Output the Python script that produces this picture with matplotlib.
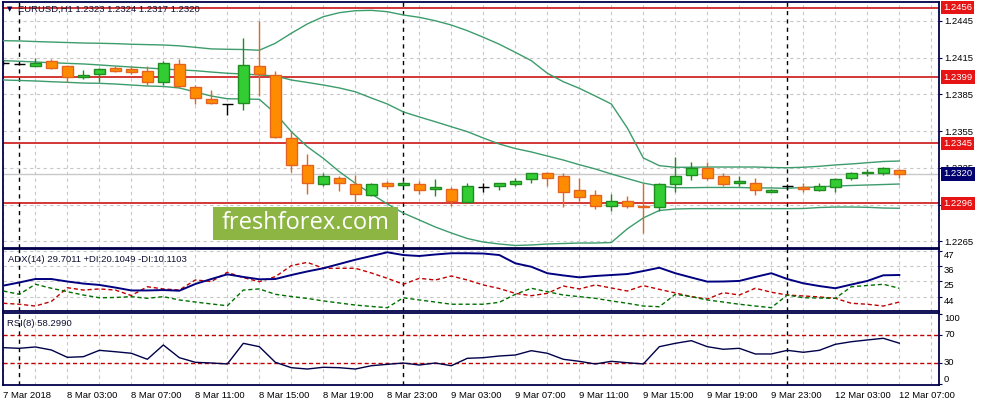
import matplotlib
matplotlib.use('Agg')
import matplotlib.pyplot as plt
from matplotlib.transforms import blended_transform_factory as btf
from matplotlib.patches import Rectangle

plt.rcParams['font.family'] = ['Liberation Sans', 'DejaVu Sans']

# ---------------- data ----------------
opens = [1.2411, 1.2410, 1.2408, 1.2412, 1.2408, 1.2399, 1.2402, 1.2407, 1.2406, 1.2404,
         1.2395, 1.2410, 1.2391, 1.2381, 1.2377, 1.2378, 1.2408, 1.2401, 1.2349, 1.2327,
         1.2312, 1.2317, 1.2312, 1.2303, 1.2313, 1.2311, 1.2312, 1.2308, 1.2308, 1.2297,
         1.2309, 1.2310, 1.2312, 1.2316, 1.2321, 1.2318, 1.2307, 1.2303, 1.2294, 1.2298,
         1.2294, 1.2293, 1.2312, 1.2319, 1.2325, 1.2318, 1.2313, 1.2313, 1.2305, 1.2310,
         1.2309, 1.2307, 1.2309, 1.2317, 1.2321, 1.2321, 1.2323]
highs = [1.2413, 1.2411, 1.2415, 1.2414, 1.2408, 1.2405, 1.2407, 1.2408, 1.2408, 1.2408,
         1.2412, 1.2414, 1.2393, 1.2389, 1.2377, 1.2431, 1.2445, 1.2404, 1.2355, 1.2336,
         1.2321, 1.2318, 1.2319, 1.2313, 1.2314, 1.2314, 1.2314, 1.2316, 1.2309, 1.2313,
         1.2313, 1.2313, 1.2317, 1.2321, 1.2322, 1.2321, 1.2317, 1.2307, 1.2304, 1.2302,
         1.2313, 1.2313, 1.2334, 1.2330, 1.2330, 1.2321, 1.2318, 1.2317, 1.2308, 1.2312,
         1.2313, 1.2313, 1.2317, 1.2322, 1.2324, 1.2326, 1.2324]
lows = [1.2409, 1.2409, 1.2408, 1.2406, 1.2395, 1.2398, 1.2395, 1.2403, 1.2402, 1.2393,
        1.2393, 1.2390, 1.2377, 1.2377, 1.2368, 1.2372, 1.2384, 1.2349, 1.2322, 1.2304,
        1.2310, 1.2306, 1.2297, 1.2302, 1.2308, 1.2311, 1.2304, 1.2302, 1.2294, 1.2296,
        1.2305, 1.2307, 1.2310, 1.2313, 1.2310, 1.2293, 1.2298, 1.2291, 1.2290, 1.2292,
        1.2272, 1.2290, 1.2305, 1.2315, 1.2315, 1.2310, 1.2310, 1.2303, 1.2305, 1.2307,
        1.2305, 1.2306, 1.2305, 1.2315, 1.2318, 1.2319, 1.2317]
closes = [1.2411, 1.2410, 1.2411, 1.2407, 1.2399, 1.2401, 1.2406, 1.2404, 1.2403, 1.2395,
          1.2411, 1.2392, 1.2382, 1.2378, 1.2377, 1.2409, 1.2402, 1.2350, 1.2327, 1.2313,
          1.2318, 1.2313, 1.2304, 1.2312, 1.2310, 1.2313, 1.2307, 1.2309, 1.2298, 1.2310,
          1.2309, 1.2313, 1.2314, 1.2321, 1.2317, 1.2305, 1.2301, 1.2294, 1.2298, 1.2294,
          1.2293, 1.2312, 1.2318, 1.2325, 1.2317, 1.2312, 1.2314, 1.2307, 1.2307, 1.2310,
          1.2308, 1.2310, 1.2316, 1.2321, 1.2322, 1.2325, 1.2320]

bb_upper = [1.24289, 1.24287, 1.24282, 1.24278, 1.24274, 1.24270, 1.24268, 1.24265, 1.24260, 1.24257,
            1.24254, 1.24247, 1.24235, 1.24222, 1.24219, 1.24217, 1.24211,
            1.24268, 1.24350, 1.24426, 1.24485, 1.24518, 1.24534, 1.24537, 1.24526, 1.24499,
            1.24480, 1.24452, 1.24417, 1.24371, 1.24317,
            1.24260, 1.24194, 1.24126, 1.24023, 1.23954, 1.23900, 1.23837, 1.23772, 1.23576, 1.23331,
            1.23268, 1.23255, 1.23255, 1.23257, 1.23257, 1.23257, 1.23257, 1.23253, 1.23251, 1.23255,
            1.23263, 1.23274, 1.23282, 1.23292, 1.23302, 1.23306]
bb_mid = [1.24126, 1.24121, 1.24115, 1.24109, 1.24104, 1.24099, 1.24091, 1.24082, 1.24074, 1.24066,
          1.24058, 1.24050, 1.24044, 1.24033, 1.24023, 1.24017, 1.24009,
          1.24001, 1.23968, 1.23948, 1.23927, 1.23903, 1.23872, 1.23821, 1.23772, 1.23707,
          1.23666, 1.23627, 1.23586, 1.23546, 1.23494,
          1.23445, 1.23408, 1.23380, 1.23347, 1.23314, 1.23276, 1.23241, 1.23200, 1.23163, 1.23126,
          1.23102, 1.23088, 1.23088, 1.23090, 1.23090, 1.23090, 1.23086, 1.23086, 1.23083, 1.23090,
          1.23094, 1.23102, 1.23106, 1.23110, 1.23114, 1.23118]
bb_lower = [1.23968, 1.23964, 1.23960, 1.23954, 1.23949, 1.23943, 1.23941, 1.23935, 1.23927, 1.23919,
            1.23915, 1.23903, 1.23870, 1.23837, 1.23815, 1.23813, 1.23810,
            1.23696, 1.23546, 1.23423, 1.23328, 1.23219, 1.23124, 1.23037, 1.22955, 1.22881,
            1.22824, 1.22767, 1.22718, 1.22673, 1.22644,
            1.22628, 1.22616, 1.22620, 1.22628, 1.22632, 1.22636, 1.22636, 1.22640, 1.22752, 1.22841,
            1.22902, 1.22914, 1.22917, 1.22917, 1.22917, 1.22917, 1.22917, 1.22917, 1.22917, 1.22918,
            1.22926, 1.22930, 1.22930, 1.22928, 1.22922, 1.22920]

adx = [22.0, 24.3, 26.8, 26.8, 25.0, 23.5, 22.5, 20.6, 18.5, 18.5,
       18.8, 18.3, 23.2, 26.8, 30.2, 28.3, 26.6,
       26.8, 29.7, 32.3, 34.6, 37.7, 40.8, 43.5, 46.2, 44.2, 43.5, 44.6, 45.5, 45.5, 45.3,
       44.2, 38.2, 35.7, 31.0, 29.4, 28.0, 29.0, 29.7, 30.4, 32.6,
       35.0, 31.0, 27.9, 24.9, 25.0, 25.4, 28.3, 31.0, 26.8, 23.7, 21.7, 20.1, 22.8, 25.4, 29.5, 29.7]
plus_di = [18.1, 15.7, 23.0, 20.1, 17.6, 15.2, 13.2, 13.4, 14.0, 12.8,
           14.0, 11.6, 10.1, 8.7, 7.4, 18.8, 19.6,
           15.7, 14.1, 12.7, 10.9, 9.4, 7.9, 6.9, 6.0, 13.2, 11.6, 10.1, 8.5, 8.5, 8.5,
           9.9, 15.7, 20.1, 17.6, 15.2, 14.0, 12.8, 10.9, 9.2, 7.2,
           6.7, 15.7, 14.0, 11.6, 10.1, 8.5, 7.2, 6.0, 15.2, 13.2, 13.0, 12.8, 21.2, 22.1, 23.0, 20.1]
minus_di = [9.2, 8.5, 7.2, 10.5, 20.5, 18.8, 19.6, 18.8, 14.8, 21.2,
            19.6, 18.8, 26.1, 25.0, 31.7, 27.8, 24.9,
            28.5, 36.5, 38.9, 34.6, 34.6, 34.6, 31.2, 27.3, 23.0, 27.3, 26.1, 29.0, 26.1, 22.5,
            19.9, 16.4, 14.7, 16.4, 21.7, 19.6, 22.5, 20.3, 18.1, 22.0,
            19.3, 16.7, 14.0, 12.3, 16.9, 15.2, 20.1, 17.2, 15.2, 14.5, 13.8, 12.8, 9.2, 8.5, 7.2, 10.1]
rsi = [51.9, 51.0, 52.9, 48.6, 38.1, 39.0, 48.1, 46.1, 43.9, 35.3,
       55.7, 37.6, 31.0, 30.0, 28.6, 58.1, 53.3,
       31.0, 23.3, 21.4, 23.9, 23.3, 21.4, 26.1, 28.1, 30.0, 27.1, 30.0, 26.1, 36.7, 37.6,
       40.0, 41.4, 47.6, 43.9, 35.3, 32.4, 28.6, 32.4, 30.4, 28.6,
       53.3, 58.1, 61.9, 53.3, 49.6, 51.0, 42.9, 42.9, 48.1, 45.3, 48.1, 56.7, 60.4, 62.9, 65.3, 58.3]

price_ticks = [1.2265, 1.2295, 1.2325, 1.2355, 1.2385, 1.2415, 1.2445]
price_tick_labels = ['1.2265', '', '1.2325', '1.2355', '1.2385', '1.2415', '1.2445']
red_levels = [1.2456, 1.2399, 1.2345, 1.2296]
last_price = 1.2320
adx_ticks = [14, 25, 36, 47]
adx_tick_labels = ['44', '25', '36', '47']
rsi_levels = [30, 70]
rsi_ticks = [0, 30, 70, 100]
day_separators = [1, 25, 49]
x_label_pos = [0, 4, 8, 12, 16, 20, 24, 28, 32, 36, 40, 44, 48, 52, 56]
x_labels = ['7 Mar 2018', '8 Mar 03:00', '8 Mar 07:00', '8 Mar 11:00', '8 Mar 15:00',
            '8 Mar 19:00', '8 Mar 23:00', '9 Mar 03:00', '9 Mar 07:00', '9 Mar 11:00',
            '9 Mar 15:00', '9 Mar 19:00', '9 Mar 23:00', '12 Mar 03:00', '12 Mar 07:00']
header = 'EURUSD,H1 1.2323 1.2324 1.2317 1.2320'
adx_title = 'ADX(14) 29.7011 +DI:20.1049 -DI:10.1103'
rsi_title = 'RSI(8) 58.2990'

# ---------------- layout ----------------
W, H = 981, 409
fig = plt.figure(figsize=(W / 100, H / 100), dpi=100)
fig.patch.set_facecolor('white')
L, R = 2.7, 939.3


def ax_at(top, bottom):
    return fig.add_axes([L / W, 1 - bottom / H, (R - L) / W, (bottom - top) / H])


ax = ax_at(2.0, 247.7)
ax2 = ax_at(249.0, 310.7)
ax3 = ax_at(313.3, 385.0)

NAVY = '#00004a'
GRID = '#c8c8c8'
FS = 6.8
n = len(closes)
xs = list(range(n))

for a in (ax, ax2, ax3):
    a.set_xlim(-0.04, 58.5)
    a.set_xticks([])
    for s in a.spines.values():
        s.set_color(NAVY)
        s.set_linewidth(1.3)
    for k in range(0, 60, 2):
        a.axvline(k, color=GRID, ls=(0, (3, 3)), lw=0.8, zorder=0)
    for d in day_separators:
        a.axvline(d, color='black', ls=(0, (3, 3)), lw=1.0, zorder=1)

# ---------------- main panel ----------------
ax.set_ylim(1.225978, 1.246052)
for p in price_ticks:
    ax.axhline(p, color=GRID, ls=(0, (3, 3)), lw=0.8, zorder=0)
ax.axhline(last_price, color='#c8c8c8', lw=1.0, zorder=1)
for p in red_levels:
    ax.axhline(p, color='#c80000', lw=1.1, zorder=2)

ax.plot(xs, bb_upper, color='#3c9c6c', lw=1.0, zorder=3)
ax.plot(xs, bb_mid, color='#3c9c6c', lw=1.0, zorder=3)
ax.plot(xs, bb_lower, color='#3c9c6c', lw=1.0, zorder=3)

BW = 0.66
for i in xs:
    o, h, l, c = opens[i], highs[i], lows[i], closes[i]
    if c > o:
        face, edge, wick = '#32cd32', '#1e8c1e', '#1e8c1e'
    elif c < o:
        face, edge, wick = '#ff8c00', '#e2641e', '#dc6a1e'
    else:
        face, edge, wick = 'black', 'black', 'black'
    ax.vlines(i, l, h, color=wick, lw=1.0, zorder=4)
    if c != o:
        ax.bar(i, abs(c - o), bottom=min(o, c), width=BW, color=face,
               edgecolor=edge, linewidth=1.0, zorder=5)
    else:
        ax.hlines(o, i - BW / 2, i + BW / 2, color=face, lw=1.0, zorder=5)

ax.yaxis.tick_right()
ax.set_yticks(price_ticks)
ax.set_yticklabels(price_tick_labels)
ax.tick_params(axis='y', length=2, width=0.8, color=NAVY, labelsize=FS, pad=1.5, labelcolor='black')

tb = btf(ax.transAxes, ax.transData)
for p in red_levels:
    ax.text(1.004, p, f'{p:.4f}', transform=tb, color='white', fontsize=FS, va='center', ha='left',
            bbox=dict(boxstyle='square,pad=0.25', fc='#e61414', ec='none'), zorder=10, clip_on=False)
ax.text(1.004, last_price, f'{last_price:.4f}', transform=tb, color='white', fontsize=FS, va='center',
        ha='left', bbox=dict(boxstyle='square,pad=0.25', fc='#00006e', ec='none'), zorder=10, clip_on=False)

ax.text(0.0075, 0.970, '\u25bc', transform=ax.transAxes, fontsize=5, family=['DejaVu Sans'],
        color=NAVY, va='center', ha='center', zorder=11)
ax.text(0.0163, 0.970, header, transform=ax.transAxes, fontsize=FS, color='#101030',
        va='center', ha='left', zorder=11)

# watermark
fig.patches.append(Rectangle((213 / W, 1 - 240 / H), 185 / W, 33.3 / H, transform=fig.transFigure,
                             facecolor='#8db543', edgecolor='none', zorder=20))
fig.text(305.5 / W, 1 - 223.0 / H, 'freshforex.com', color='white', fontsize=17,
         family=['Open Sans', 'DejaVu Sans'], ha='center', va='center', zorder=21)

# ---------------- ADX panel ----------------
ax2.set_ylim(3.81, 48.58)
for v in adx_ticks:
    ax2.axhline(v, color=GRID, ls=(0, (3, 3)), lw=0.8, zorder=0)
ax2.plot(xs, minus_di, color='#c00000', lw=1.0, ls=(0, (3, 2)), zorder=3)
ax2.plot(xs, plus_di, color='#007000', lw=1.0, ls=(0, (3, 2)), zorder=3)
ax2.plot(xs, adx, color='#000080', lw=1.4, zorder=4)
ax2.yaxis.tick_right()
ax2.set_yticks(adx_ticks)
ax2.set_yticklabels([])
ax2.tick_params(axis='y', length=2, width=0.8, color=NAVY)
tb2 = btf(ax2.transAxes, ax2.transData)
for v, lb in zip(adx_ticks, adx_tick_labels):
    ax2.text(1.005, v, lb, transform=tb2, fontsize=FS, va='top', ha='left', color='black', clip_on=False)
ax2.text(0.0057, 0.833, adx_title, transform=ax2.transAxes, fontsize=FS, color='#101030',
         va='center', ha='left')

# ---------------- RSI panel ----------------
ax3.set_ylim(-1.43, 101.0)
for v in rsi_levels:
    ax3.axhline(v, color='#c00000', lw=1.0, ls=(0, (3, 2)), zorder=2)
ax3.plot(xs, rsi, color='#00004a', lw=1.0, zorder=4)
ax3.yaxis.tick_right()
ax3.set_yticks(rsi_ticks)
ax3.set_yticklabels([])
ax3.tick_params(axis='y', length=2, width=0.8, color=NAVY)
tb3 = btf(ax3.transAxes, ax3.transData)
rsi_va = {0: 'bottom', 30: 'center', 70: 'center', 100: 'top'}
for v in rsi_ticks:
    ax3.text(1.005, v, str(v), transform=tb3, fontsize=FS, va=rsi_va[v], ha='left', color='black',
             clip_on=False)
ax3.text(0.0047, 0.851, rsi_title, transform=ax3.transAxes, fontsize=FS, color='#101030',
         va='center', ha='left')

tx = btf(ax3.transData, ax3.transAxes)
for pos, lb in zip(x_label_pos, x_labels):
    ax3.text(pos, -0.14, lb, transform=tx, fontsize=FS, va='center', ha='left', color='black',
             clip_on=False)

fig.savefig('out.png', dpi=100)
